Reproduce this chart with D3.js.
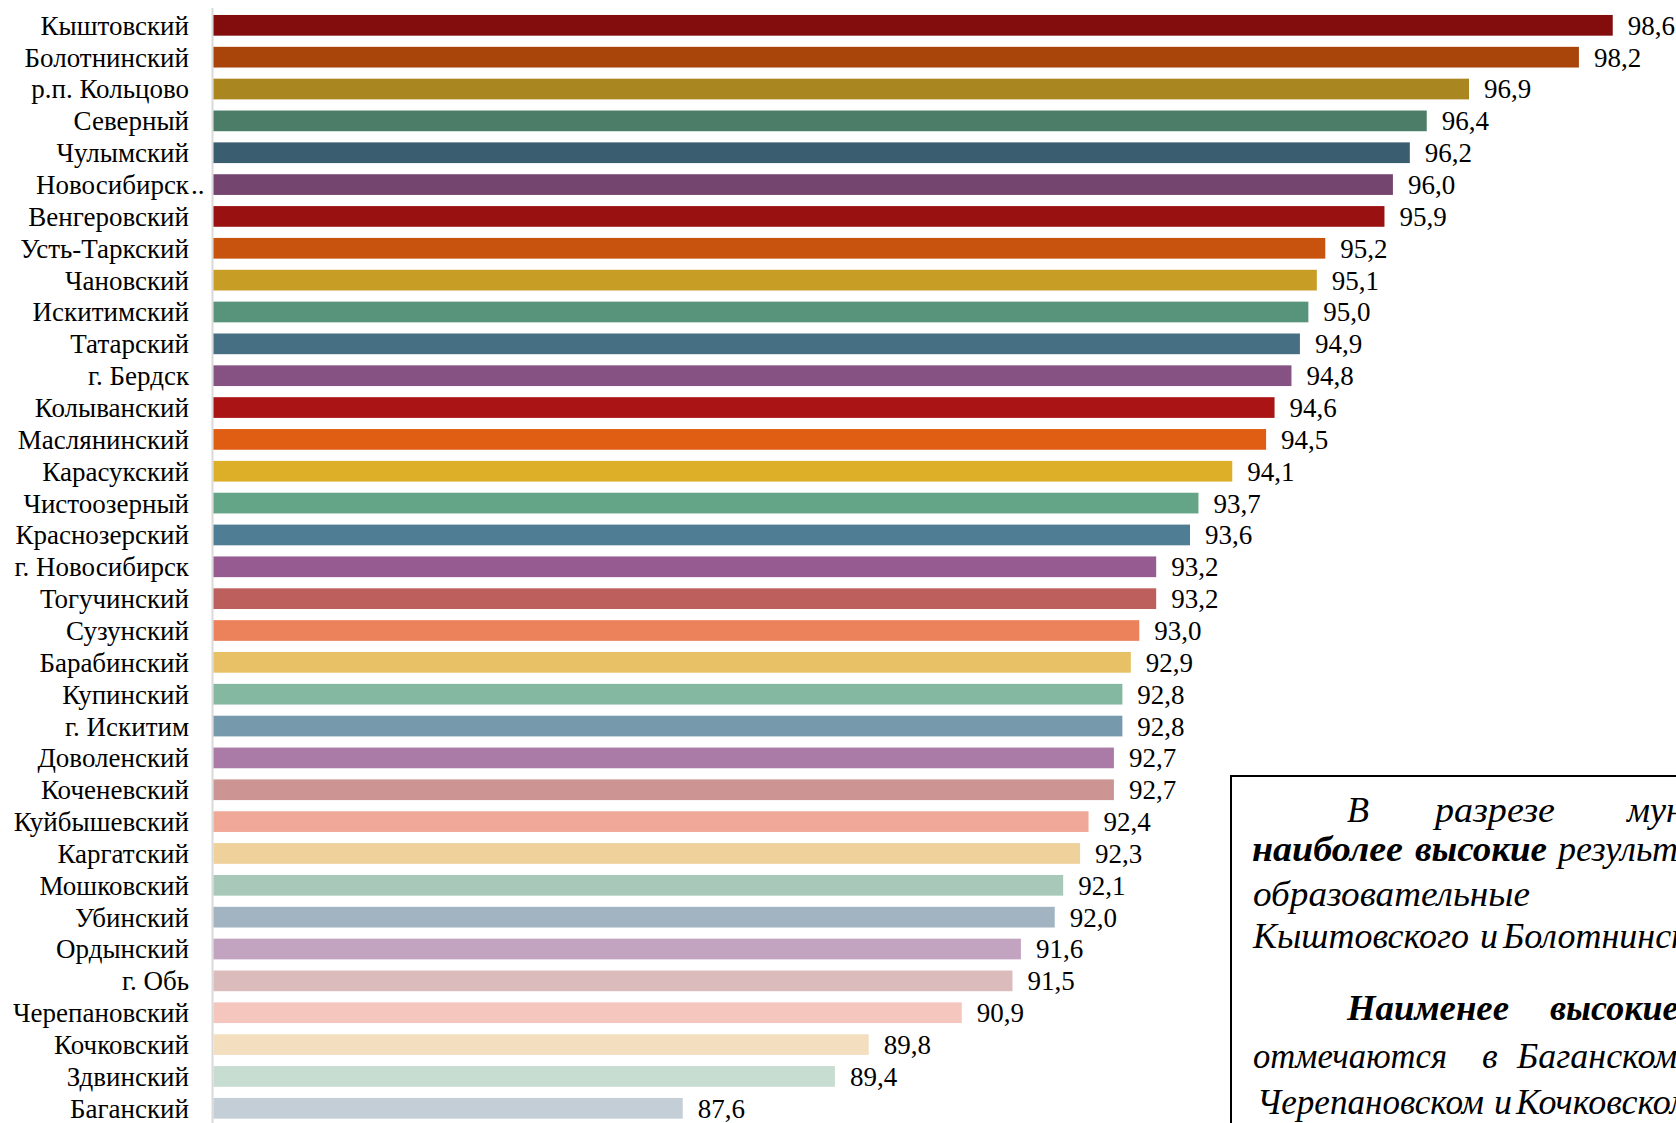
<!DOCTYPE html>
<html>
<head>
<meta charset="utf-8">
<script src="https://cdn.jsdelivr.net/npm/d3@7/dist/d3.min.js"></script>
<style>
  html, body { margin: 0; padding: 0; background: #ffffff; overflow: hidden; }
  svg { display: block; }
</style>
</head>
<body>
<svg id="chart" width="1676" height="1123"></svg>
<script>
// ---- data ----
const categories = [
  "Кыштовский", "Болотнинский", "р.п. Кольцово", "Северный", "Чулымский",
  "Новосибирск..", "Венгеровский", "Усть-Таркский", "Чановский", "Искитимский",
  "Татарский", "г. Бердск", "Колыванский", "Маслянинский", "Карасукский",
  "Чистоозерный", "Краснозерский", "г. Новосибирск", "Тогучинский", "Сузунский",
  "Барабинский", "Купинский", "г. Искитим", "Доволенский", "Коченевский",
  "Куйбышевский", "Каргатский", "Мошковский", "Убинский", "Ордынский",
  "г. Обь", "Черепановский", "Кочковский", "Здвинский", "Баганский"
];
const values = [
  98.6, 98.2, 96.9, 96.4, 96.2,
  96.0, 95.9, 95.2, 95.1, 95.0,
  94.9, 94.8, 94.6, 94.5, 94.1,
  93.7, 93.6, 93.2, 93.2, 93.0,
  92.9, 92.8, 92.8, 92.7, 92.7,
  92.4, 92.3, 92.1, 92.0, 91.6,
  91.5, 90.9, 89.8, 89.4, 87.6
];
const barColors = [
  "#830d0d", "#a9450a", "#aa8620", "#4c7d68", "#3b5d70",
  "#73456f", "#991111", "#c8530f", "#c79d26", "#58937b",
  "#476f84", "#865283", "#aa1414", "#df5e13", "#ddaf28",
  "#64a587", "#4f7d93", "#965c92", "#bd5f5c", "#ec825c",
  "#e8c065", "#84b8a0", "#7699ac", "#aa7ba7", "#cc9493",
  "#f0a998", "#efd19b", "#a8c9b9", "#a2b4c1", "#c2a3c0",
  "#dcbbbd", "#f4c6bd", "#f3dfbf", "#c8ddd2", "#c3ced6"
];
const axisDomain = [82.05, 100];

// side note text (visible portion; the box runs off the page)
const noteLines = [
  { y: 822,  words: [ {t: "В", x: 1347}, {t: "разрезе", x: 1435, w: 120}, {t: "муниципальных", x: 1627} ] },
  { y: 861,  words: [ {t: "наиболее", x: 1252, b: true, w: 151}, {t: "высокие", x: 1415, b: true, w: 132}, {t: "результаты", x: 1558} ] },
  { y: 906,  words: [ {t: "образовательные", x: 1253, w: 277} ] },
  { y: 948,  words: [ {t: "Кыштовского", x: 1253, w: 216}, {t: "и", x: 1480}, {t: "Болотнинского", x: 1503} ] },
  { y: 1020, words: [ {t: "Наименее", x: 1347, b: true, w: 162}, {t: "высокие", x: 1550, b: true} ] },
  { y: 1068, words: [ {t: "отмечаются", x: 1253, w: 194}, {t: "в", x: 1482}, {t: "Баганском,", x: 1517} ] },
  { y: 1114, words: [ {t: "Черепановском", x: 1257, w: 227}, {t: "и", x: 1494}, {t: "Кочковском", x: 1516} ] }
];

// ---- layout ----
const svg = d3.select("#chart");
const font = "'Liberation Serif', 'Times New Roman', serif";
const labelRight = 189;

const x = d3.scaleLinear().domain(axisDomain).range([213.5, 1731.1]);
const y = d3.scaleBand().domain(categories).range([9.4, 1124.2])
  .paddingInner(0.35).paddingOuter(0.175);

const data = categories.map((c, i) => ({ c, v: values[i], col: barColors[i] }));

// vertical category axis line
svg.append("line")
  .attr("x1", 212.5).attr("x2", 212.5)
  .attr("y1", 8).attr("y2", 1123)
  .attr("stroke", "#d9d9d9").attr("stroke-width", 2);

// bars
svg.append("g").selectAll("rect").data(data).join("rect")
  .attr("x", x(axisDomain[0]))
  .attr("y", d => y(d.c))
  .attr("width", d => x(d.v) - x(axisDomain[0]))
  .attr("height", y.bandwidth())
  .attr("fill", d => d.col);

// category labels
const labG = svg.append("g")
  .attr("font-family", font).attr("font-size", 27).attr("fill", "#000");
data.forEach(d => {
  const trunc = d.c.endsWith("..");
  const main = trunc ? d.c.slice(0, -2) : d.c;
  labG.append("text")
    .attr("x", labelRight).attr("y", y(d.c) + y.bandwidth() / 2)
    .attr("dy", "0.35em").attr("text-anchor", "end")
    .text(main);
  if (trunc) {
    labG.append("text")
      .attr("x", labelRight + 2).attr("y", y(d.c) + y.bandwidth() / 2)
      .attr("dy", "0.35em").attr("text-anchor", "start")
      .text("..");
  }
});

// value labels
const fmt = v => d3.format(".1f")(v).replace(".", ",");
svg.append("g").attr("font-family", font).attr("font-size", 27).attr("fill", "#000")
  .selectAll("text").data(data).join("text")
  .attr("x", d => x(d.v) + 15)
  .attr("y", d => y(d.c) + y.bandwidth() / 2)
  .attr("dy", "0.35em")
  .text(d => fmt(d.v));

// side note box
svg.append("rect")
  .attr("x", 1231).attr("y", 776).attr("width", 600).attr("height", 500)
  .attr("fill", "#fff").attr("stroke", "#000").attr("stroke-width", 2);

const noteG = svg.append("g").attr("font-family", font).attr("font-size", 36)
  .attr("font-style", "italic").attr("fill", "#000");
noteLines.forEach(line => {
  line.words.forEach(w => {
    const t = noteG.append("text")
      .attr("x", w.x).attr("y", line.y)
      .attr("font-weight", w.b ? "bold" : "normal")
      .text(w.t);
    if (w.w) t.attr("textLength", w.w).attr("lengthAdjust", "spacingAndGlyphs");
  });
});
</script>
</body>
</html>
